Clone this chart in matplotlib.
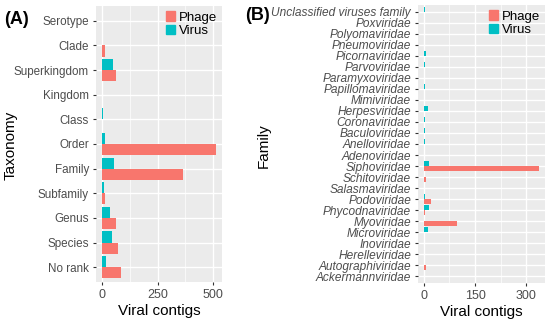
import matplotlib

matplotlib.use("Agg")
import matplotlib.pyplot as plt
import numpy as np
from matplotlib.patches import Patch

plt.rcParams["font.family"] = ["Liberation Sans", "DejaVu Sans"]

# Panel A data (bottom to top)
ranks = ["No rank", "Species", "Genus", "Subfamily", "Family", "Order",
         "Class", "Kingdom", "Superkingdom", "Clade", "Serotype"]
rank_phage = [88, 72, 66, 16, 366, 513, 0, 0, 66, 15, 0]
rank_virus = [18, 47, 38, 9, 53, 14, 5, 2, 49, 3, 2]

# Panel B data (bottom to top)
families = ["Ackermannviridae", "Autographiviridae", "Herelleviridae", "Inoviridae",
            "Microviridae", "Myoviridae", "Phycodnaviridae", "Podoviridae",
            "Salasmaviridae", "Schitoviridae", "Siphoviridae", "Adenoviridae",
            "Anelloviridae", "Baculoviridae", "Coronaviridae", "Herpesviridae",
            "Mimiviridae", "Papillomaviridae", "Paramyxoviridae", "Parvoviridae",
            "Picornaviridae", "Pneumoviridae", "Polyomaviridae", "Poxviridae",
            "Unclassified viruses family"]
fam_phage = [1, 6, 2, 1, 2, 98, 3, 22, 2, 7, 338, 0,
             0, 0, 0, 0, 0, 0, 0, 0, 0, 0, 0, 0, 0]
fam_virus = [0, 0, 0, 0, 11, 2, 15, 3, 0, 0, 14, 2,
             5, 3, 4, 12, 2, 5, 2, 4, 7, 2, 2, 1, 3]

PHAGE = "#F8766D"
VIRUS = "#00BFC4"
TXT = "#4D4D4D"
W, H = 550, 323


def panel(ax, cats, phage, virus, major, minor, xmax, italic, ylabel, ylab_x):
    y = np.arange(len(cats))
    ax.set_facecolor("#EBEBEB")
    ax.barh(y - 0.225, phage, height=0.45, color=PHAGE, zorder=3)
    ax.barh(y + 0.225, virus, height=0.45, color=VIRUS, zorder=3)
    ax.set_yticks(y)
    ax.set_yticklabels(cats, style="italic" if italic else "normal")
    ax.set_xticks(major)
    ax.set_xticks(minor, minor=True)
    ax.set_xlim(-0.05 * xmax, 1.05 * xmax)
    ax.set_ylim(-0.6, len(cats) - 0.4)
    ax.grid(True, which="major", color="white", lw=1.0, zorder=0)
    ax.grid(True, which="minor", axis="x", color="white", lw=0.5, zorder=0)
    ax.set_axisbelow(True)
    for s in ax.spines.values():
        s.set_visible(False)
    ax.tick_params(which="major", length=2.5, color="#333333", labelcolor=TXT, pad=2.5)
    ax.tick_params(which="minor", length=0)
    ax.set_xlabel("Viral contigs", fontsize=11, labelpad=2)
    ax.set_ylabel(ylabel, fontsize=11)
    # label anchor is its right edge (rotated text)
    ax.yaxis.set_label_coords(ylab_x / W, 0.55, transform=ax.figure.transFigure)
    handles = [Patch(color=PHAGE), Patch(color=VIRUS)]
    ax.legend(handles, ["Phage", "Virus"], loc="upper right", frameon=False,
              fontsize=9.5, handlelength=0.7, handleheight=0.7, labelspacing=0.08,
              handletextpad=0.25, borderaxespad=0.2, borderpad=0.2)


fig = plt.figure(figsize=(W / 100, H / 100), dpi=100)
axA = fig.add_axes([96 / W, 1 - 282 / H, 126 / W, 276 / H])
axB = fig.add_axes([418 / W, 1 - 283 / H, 127 / W, 278 / H])

panel(axA, ranks, rank_phage, rank_virus, [0, 250, 500], [125, 375], 513, False,
      "Taxonomy", 18)
axA.tick_params(axis="y", labelsize=8.4)
axA.tick_params(axis="x", labelsize=9)

panel(axB, families, fam_phage, fam_virus, [0, 150, 300], [75, 225], 338, True,
      "Family", 271)
axB.tick_params(axis="y", labelsize=8.6)
axB.tick_params(axis="x", labelsize=9)

fig.text(4 / W, 1 - 19 / H, "(A)", fontsize=13, fontweight="bold", va="center")
fig.text(245 / W, 1 - 15 / H, "(B)", fontsize=13, fontweight="bold", va="center")

fig.savefig("out.png", dpi=100)
